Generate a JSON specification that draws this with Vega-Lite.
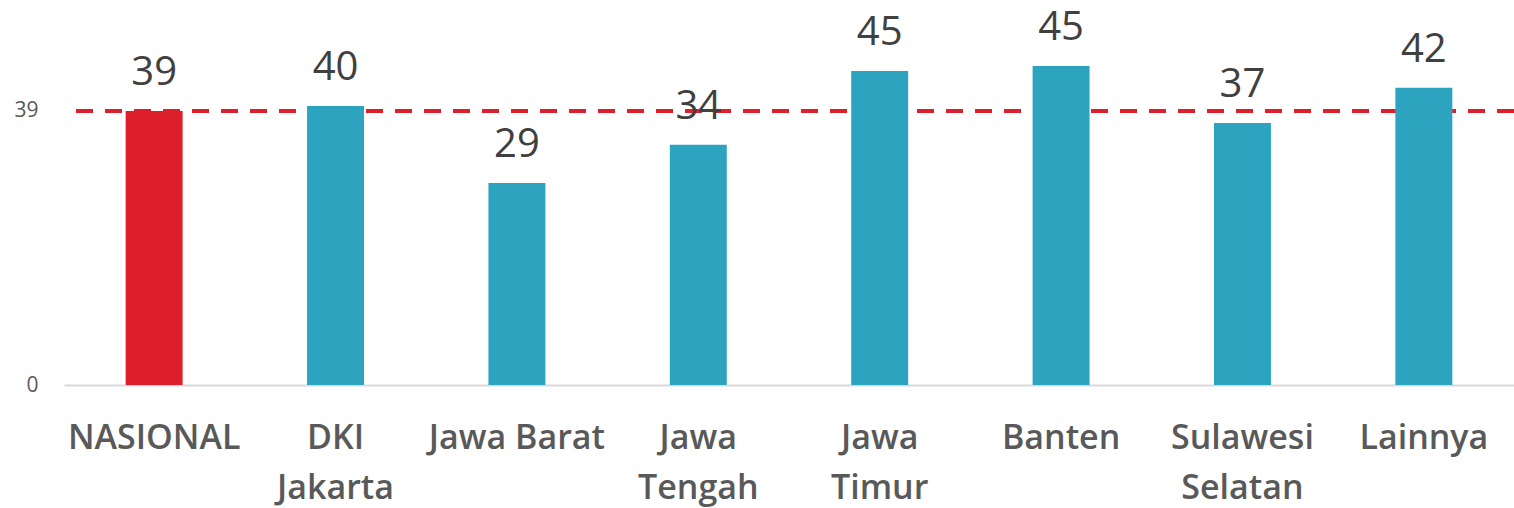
{
  "$schema": "https://vega.github.io/schema/vega-lite/v6.json",
  "width": 1450,
  "height": 380,
  "autosize": {"type": "none"},
  "padding": {"left": 64, "top": 5, "right": 0, "bottom": 123},
  "background": "white",
  "config": {
    "view": {"stroke": null},
    "font": "Open Sans"
  },
  "data": {
    "values": [
      {"region": "NASIONAL", "value": 39, "group": "Nasional"},
      {"region": "DKI Jakarta", "value": 39.7, "group": "Provinsi"},
      {"region": "Jawa Barat", "value": 28.75, "group": "Provinsi"},
      {"region": "Jawa Tengah", "value": 34.2, "group": "Provinsi"},
      {"region": "Jawa Timur", "value": 44.7, "group": "Provinsi"},
      {"region": "Banten", "value": 45.4, "group": "Provinsi"},
      {"region": "Sulawesi Selatan", "value": 37.3, "group": "Provinsi"},
      {"region": "Lainnya", "value": 42.3, "group": "Provinsi"}
    ]
  },
  "encoding": {
    "x": {
      "field": "region",
      "type": "nominal",
      "sort": null,
      "scale": {"paddingInner": 0.686, "paddingOuter": 0.34},
      "axis": {
        "title": null,
        "labelAngle": 0,
        "ticks": false,
        "domainColor": "#d9d9d9",
        "domainWidth": 2,
        "labelFont": "Open Sans",
        "labelFontSize": 34,
        "labelFontWeight": 600,
        "labelColor": "#595959",
        "labelPadding": 36,
        "labelLineHeight": 50,
        "labelBaseline": "top",
        "labelExpr": "datum.label == 'Jawa Barat' ? datum.label : split(datum.label, ' ')"
      }
    }
  },
  "layer": [
    {
      "mark": {"type": "rule", "color": "#DC1F2A", "strokeWidth": 4, "strokeDash": [17, 12]},
      "encoding": {"x": null, "y": {"datum": 39, "type": "quantitative"}}
    },
    {
      "mark": {"type": "bar"},
      "encoding": {
        "y": {
          "field": "value",
          "type": "quantitative",
          "scale": {"domain": [0, 54.08], "nice": false, "zero": true},
          "axis": {
            "title": null,
            "values": [0, 39],
            "grid": false,
            "ticks": false,
            "domain": false,
            "labelFont": "Open Sans",
            "labelFontSize": 21,
            "labelColor": "#595959",
            "labelPadding": 26
          }
        },
        "color": {
          "field": "group",
          "type": "nominal",
          "scale": {"domain": ["Nasional", "Provinsi"], "range": ["#DC1F2A", "#2CA3BF"]},
          "legend": null
        }
      }
    },
    {
      "mark": {"type": "text", "fontSize": 40, "fontWeight": 500, "color": "#404040", "baseline": "alphabetic", "dy": -26, "font": "Open Sans"},
      "encoding": {
        "y": {"field": "value", "type": "quantitative"},
        "text": {"field": "value", "type": "quantitative", "format": ".0f"}
      }
    }
  ]
}
